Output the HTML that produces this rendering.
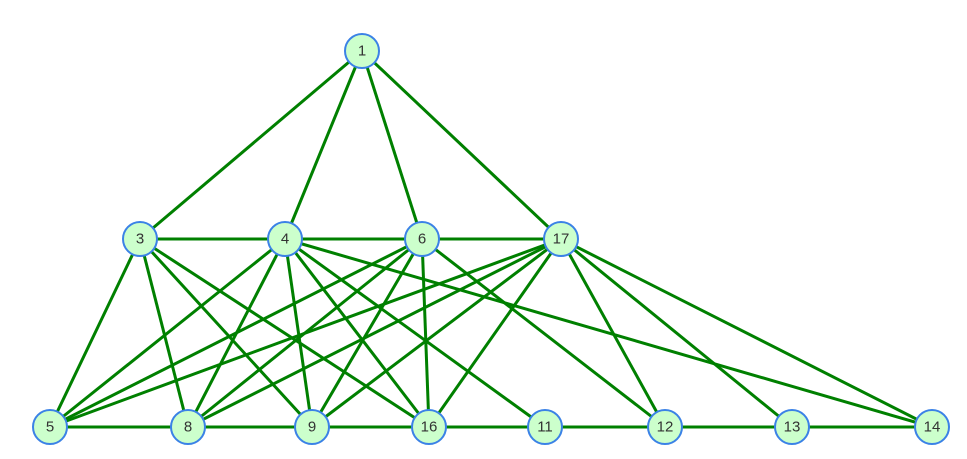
<!DOCTYPE html><html><head><style>body{margin:0;background:#fff}svg{display:block}</style></head><body>
<svg width="967" height="459" xmlns="http://www.w3.org/2000/svg">
<g stroke="#008000" stroke-width="3">
<line x1="362" y1="51" x2="140" y2="239"/><line x1="362" y1="51" x2="285" y2="239"/><line x1="362" y1="51" x2="422" y2="239"/><line x1="362" y1="51" x2="561" y2="239"/>
<line x1="140" y1="239" x2="561" y2="239"/>
<line x1="50" y1="427" x2="932" y2="427"/>
<line x1="140" y1="239" x2="50" y2="427"/><line x1="140" y1="239" x2="188" y2="427"/><line x1="140" y1="239" x2="312" y2="427"/><line x1="140" y1="239" x2="429" y2="427"/>
<line x1="285" y1="239" x2="50" y2="427"/><line x1="285" y1="239" x2="188" y2="427"/><line x1="285" y1="239" x2="312" y2="427"/><line x1="285" y1="239" x2="429" y2="427"/><line x1="285" y1="239" x2="545" y2="427"/><line x1="285" y1="239" x2="932" y2="427"/>
<line x1="422" y1="239" x2="50" y2="427"/><line x1="422" y1="239" x2="188" y2="427"/><line x1="422" y1="239" x2="312" y2="427"/><line x1="422" y1="239" x2="429" y2="427"/><line x1="422" y1="239" x2="665" y2="427"/>
<line x1="561" y1="239" x2="50" y2="427"/><line x1="561" y1="239" x2="188" y2="427"/><line x1="561" y1="239" x2="312" y2="427"/><line x1="561" y1="239" x2="429" y2="427"/><line x1="561" y1="239" x2="665" y2="427"/><line x1="561" y1="239" x2="792" y2="427"/><line x1="561" y1="239" x2="932" y2="427"/>
</g>
<g fill="#ccffcc" stroke="#3b82e6" stroke-width="2">
<circle cx="362" cy="51" r="17"/><circle cx="140" cy="239" r="17"/><circle cx="285" cy="239" r="17"/><circle cx="422" cy="239" r="17"/><circle cx="561" cy="239" r="17"/>
<circle cx="50" cy="427" r="17"/><circle cx="188" cy="427" r="17"/><circle cx="312" cy="427" r="17"/><circle cx="429" cy="427" r="17"/><circle cx="545" cy="427" r="17"/><circle cx="665" cy="427" r="17"/><circle cx="792" cy="427" r="17"/><circle cx="932" cy="427" r="17"/>
</g>
<g font-family="Liberation Sans, sans-serif" font-size="15" fill="#333" text-anchor="middle" dominant-baseline="central">
<text x="362" y="51">1</text><text x="140" y="239">3</text><text x="285" y="239">4</text><text x="422" y="239">6</text><text x="561" y="239">17</text>
<text x="50" y="427">5</text><text x="188" y="427">8</text><text x="312" y="427">9</text><text x="429" y="427">16</text><text x="545" y="427">11</text><text x="665" y="427">12</text><text x="792" y="427">13</text><text x="932" y="427">14</text>
</g>
</svg></body></html>
